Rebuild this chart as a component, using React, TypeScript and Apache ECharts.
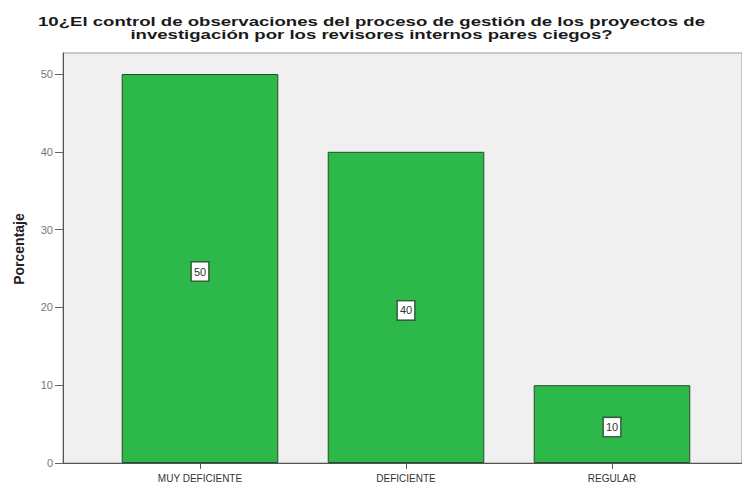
import React, { useEffect, useRef } from "react";
import * as echarts from "echarts";

const categories = ["MUY DEFICIENTE", "DEFICIENTE", "REGULAR"];
const values = [50, 40, 10];
const yTicks = [0, 10, 20, 30, 40, 50];
const titleLines = [
  "10¿El control de observaciones del proceso de gestión de los proyectos de",
  "investigación por los revisores internos pares ciegos?",
];
const yAxisTitle = "Porcentaje";

export default function App() {
  const ref = useRef<HTMLDivElement>(null);
  useEffect(() => {
    const chart = echarts.init(ref.current!, null, { renderer: "svg" });
    const font = "'Liberation Sans', Arial, sans-serif";
    chart.setOption({
      animation: false,
      backgroundColor: "#ffffff",
      graphic: [
        ...titleLines.map((t, i) => ({
          type: "text",
          x: 371.5,
          y: 21 + i * 13,
          scaleX: 1.43,
          silent: true,
          style: {
            text: t,
            x: 0,
            y: 0,
            textAlign: "center",
            textVerticalAlign: "middle",
            fontFamily: font,
            fontSize: 13,
            fontWeight: "bold",
            fill: "#1a1a1a",
          },
        })),
        {
          type: "text",
          x: 19,
          y: 249,
          rotation: Math.PI / 2,
          silent: true,
          style: {
            text: yAxisTitle,
            x: 0,
            y: 0,
            textAlign: "center",
            textVerticalAlign: "middle",
            fontFamily: font,
            fontSize: 14,
            fontWeight: "bold",
            fill: "#222",
          },
        },
      ],
      grid: [
        { left: 63, right: 0, top: 53, bottom: 23, show: true, backgroundColor: "#f0f0f0", borderColor: "#999", borderWidth: 1 },
        { left: 97, right: 27, top: 53, bottom: 23 },
      ],
      xAxis: [
        {
          gridIndex: 0, type: "value", min: 0, max: 1,
          axisLine: { show: true, onZero: false, lineStyle: { color: "#555", width: 1 } },
          axisTick: { show: false }, axisLabel: { show: false }, splitLine: { show: false },
        },
        {
          gridIndex: 1, type: "category", data: categories,
          axisLine: { show: false },
          axisTick: { show: true, alignWithLabel: true, length: 6, lineStyle: { color: "#555" } },
          axisLabel: { fontFamily: font, fontSize: 10, color: "#333", margin: 10 },
        },
      ],
      yAxis: [
        {
          gridIndex: 0, type: "value", min: 0, max: 52.7, interval: 10,
          axisLine: { show: true, lineStyle: { color: "#555", width: 1 } },
          axisTick: { show: true, length: 8, lineStyle: { color: "#666" } },
          axisLabel: {
            fontFamily: font, fontSize: 11, color: "#777", margin: 10,
            showMaxLabel: false,
            formatter: (v: number) => (yTicks.includes(v) ? String(v) : ""),
          },
          splitLine: { show: false },
        },
        {
          gridIndex: 1, type: "value", min: 0, max: 52.7, show: false,
        },
      ],
      series: [
        {
          type: "bar",
          xAxisIndex: 1,
          yAxisIndex: 1,
          data: values,
          barWidth: "76%",
          itemStyle: { color: "#2db84a", borderColor: "#2a4a2a", borderWidth: 1 },
          label: {
            show: true,
            position: "inside",
            offset: [0, 3],
            fontFamily: font,
            fontSize: 11,
            color: "#333",
            backgroundColor: "#ffffff",
            borderColor: "#2f5f35",
            borderWidth: 1.5,
            padding: [4, 2, 3, 2],
          },
        },
      ],
    });
    return () => chart.dispose();
  }, []);
  return <div ref={ref} style={{ width: 742, height: 486, position: "absolute", left: 0, top: 0 }} />;
}
